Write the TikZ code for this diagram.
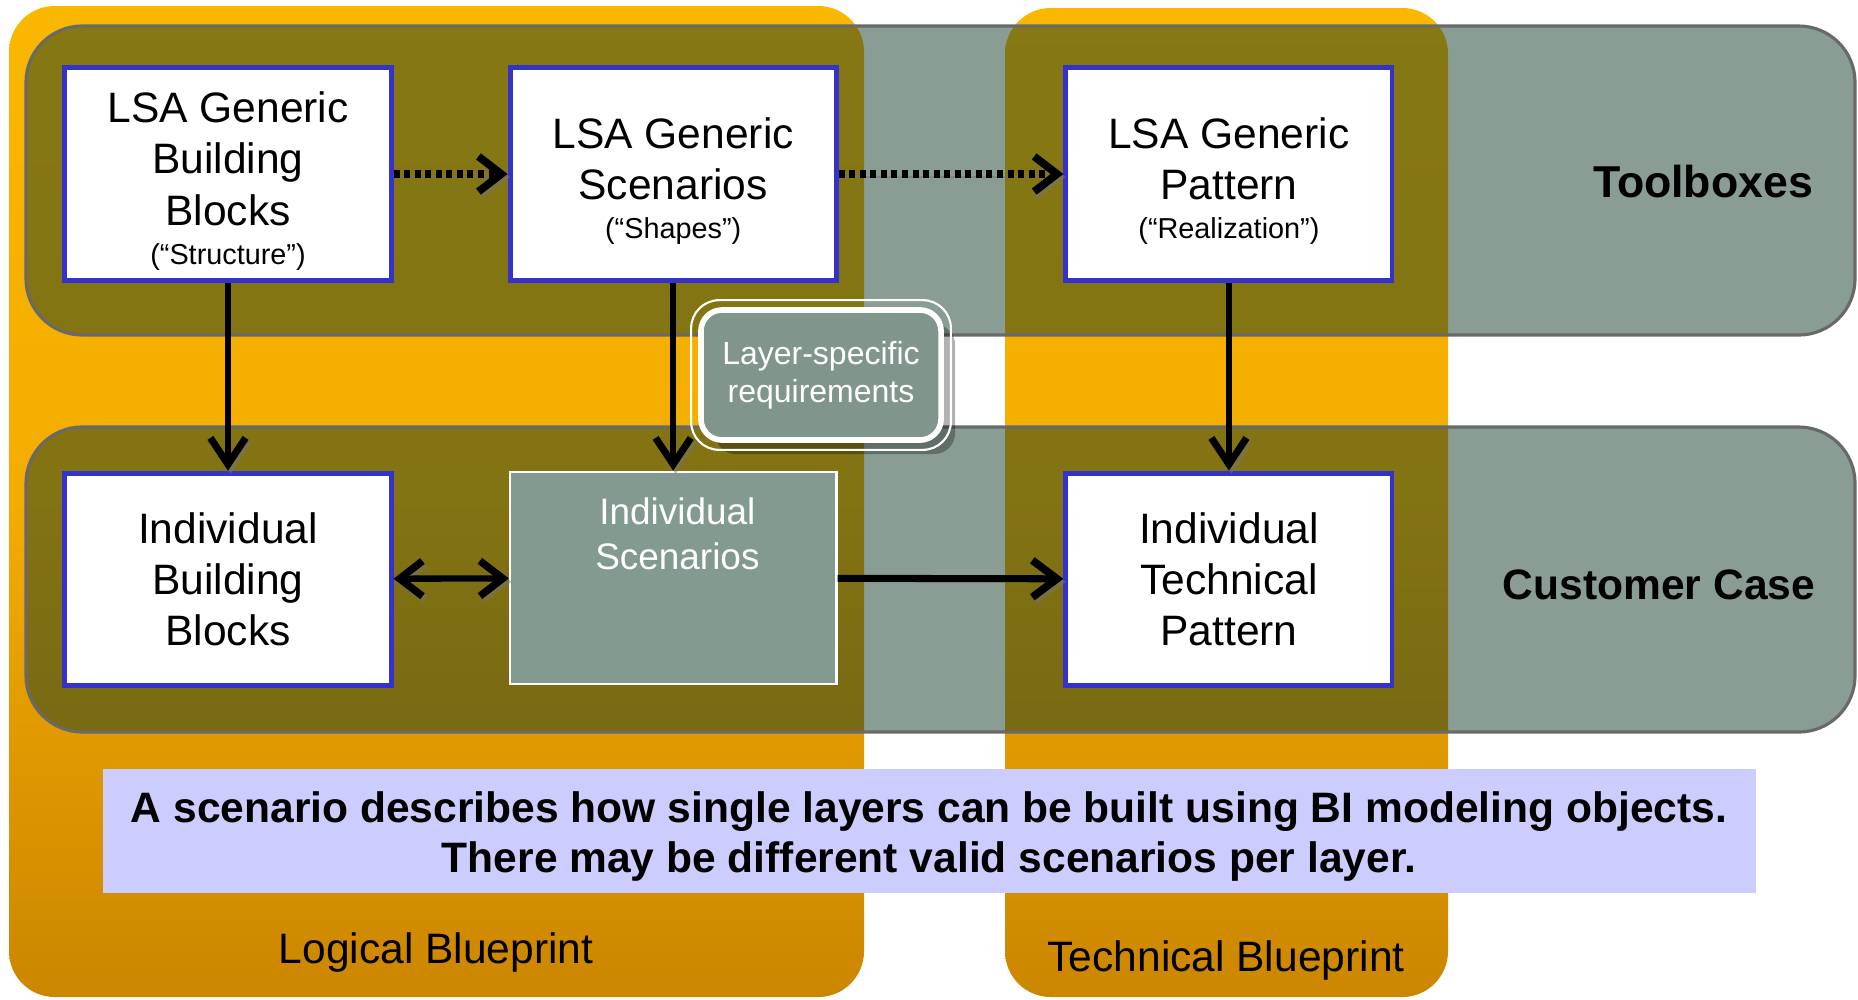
\documentclass[tikz,border=0pt]{standalone}
\usepackage{fontspec}
\setmainfont{Liberation Sans}
\usetikzlibrary{arrows.meta,positioning,calc,shadows}

\definecolor{orangetop}{RGB}{250,183,0}
\definecolor{orangemid}{RGB}{243,172,0}
\definecolor{orangebot}{RGB}{204,134,0}
\definecolor{bandgreen}{RGB}{14,56,39}
\definecolor{bandline}{RGB}{105,105,105}
\definecolor{blockblue}{RGB}{51,51,204}
\definecolor{scengreen}{RGB}{130,154,144}
\definecolor{reqgreen}{RGB}{128,150,140}
\definecolor{notefill}{RGB}{204,204,255}

\newcommand{\mainsize}{\fontsize{12.1}{14.6}\selectfont}
\newcommand{\quotesize}{\fontsize{8.2}{10}\selectfont}
\newcommand{\topstrut}{\rule{0pt}{12.6pt}}

\begin{document}
\begin{tikzpicture}[x=0.01cm, y=-0.01cm,
  column/.style={rounded corners=13pt, top color=orangetop,
    bottom color=orangebot, middle color=orangemid},
  band/.style={rounded corners=16pt, fill=bandgreen, fill opacity=0.49,
    draw=bandline, line width=0.9pt},
  block/.style={draw=blockblue, line width=1.4pt, fill=white,
    minimum width=3.26cm, minimum height=2.12cm, inner sep=0pt,
    align=center, font=\mainsize},
  scen/.style={draw=white, line width=0.7pt, fill=scengreen,
    minimum width=3.26cm, minimum height=2.12cm, inner sep=0pt},
  req/.style={draw=white, line width=1.6pt, rounded corners=6pt,
    fill=reqgreen, minimum width=2.4cm, minimum height=1.3cm,
    text=white, align=center, font=\fontsize{9.1}{10.8}\selectfont,
    drop shadow={shadow xshift=4pt, shadow yshift=-4pt, opacity=.3, fill=black}},
  note/.style={fill=notefill, minimum width=16.52cm, minimum height=1.21cm,
    align=center, font=\fontsize{12.1}{14.2}\selectfont\bfseries},
  lbl/.style={font=\mainsize},
  arrshade/.style={preaction={draw=black!55, opacity=.5,
    transform canvas={shift={(0.7pt,-0.9pt)}}}},
  dotarr/.style={line width=2pt, dash pattern=on 1.7pt off 1.3pt,
    -{Straight Barb[length=6.5pt, width=10pt, line width=2.2pt]}, arrshade},
  downarr/.style={line width=1.7pt,
    -{Straight Barb[length=7.5pt, width=10pt, line width=2pt]}, arrshade},
  duoarr/.style={line width=1.8pt,
    {Straight Barb[length=6.5pt, width=10pt, line width=2.1pt]}-{Straight Barb[length=6.5pt, width=10pt, line width=2.1pt]}, arrshade},
  fatarr/.style={line width=2pt,
    -{Straight Barb[length=7pt, width=10.5pt, line width=2.2pt]}, arrshade}
]
\useasboundingbox (0,0) rectangle (1858,999);

% blueprint columns
\path[column] (9,6) rectangle (864,997);
\path[column] (1005,8) rectangle (1448,997);

% layers
\draw[band] (26,26) rectangle (1855,335);
\draw[band] (26,427) rectangle (1855,732);

\node[note] (note) at (929,831)
  {\rule{0pt}{12pt}A scenario describes how single layers can be built using BI modeling objects.\\
   There may be different valid scenarios per layer.};

\node[lbl, font=\fontsize{12.7}{15}\selectfont\bfseries] (tbx) at (1703,182) {Toolboxes};
\node[lbl, font=\mainsize\bfseries] (ccase) at (1659,585) {Customer Case};
\node[lbl] (lbp) at (436,952) {Logical Blueprint};
\node[lbl] (tbp) at (1226,960) {Technical Blueprint};

% toolbox row
\node[block] (gbb) at (228,174)
  {\topstrut LSA Generic\\Building\\Blocks\\[-3.5pt]{\quotesize(“Structure”)}};
\node[block, right=1.14cm of gbb] (gsc)
  {\topstrut LSA Generic\\Scenarios\\[-3.7pt]{\quotesize(“Shapes”)}};
\node[block, right=2.245cm of gsc] (gpt)
  {\topstrut LSA Generic\\Pattern\\[-3.7pt]{\quotesize(“Realization”)}};

% customer row
\node[block, below=1.88cm of gbb] (ibb) {Individual\\Building\\Blocks};
\node[scen, below=1.88cm of gsc,
  label={[anchor=north, xshift=1.2pt, yshift=-4.1pt, text=white, align=center,
    font=\fontsize{10.5}{12.8}\selectfont]north:{Individual\\Scenarios}}] (isc) {};
\node[block, below=1.88cm of gpt] (itp) {Individual\\Technical\\Pattern};

\draw[dotarr] (gbb) -- (gsc);
\draw[dotarr] (gsc) -- (gpt);
\draw[downarr] (gbb) -- (ibb);
\draw[downarr] (gsc) -- (isc);
\draw[downarr] (gpt) -- (itp);
\draw[duoarr] (ibb) -- (isc);
\draw[fatarr] (isc) -- (itp);

\node[req] (req) at (821,375) {Layer-specific\\requirements};
\draw[white, line width=0.6pt, rounded corners=8pt]
  ($(req.north west)+(-7,-7)$) rectangle ($(req.south east)+(7,7)$);
\end{tikzpicture}
\end{document}
